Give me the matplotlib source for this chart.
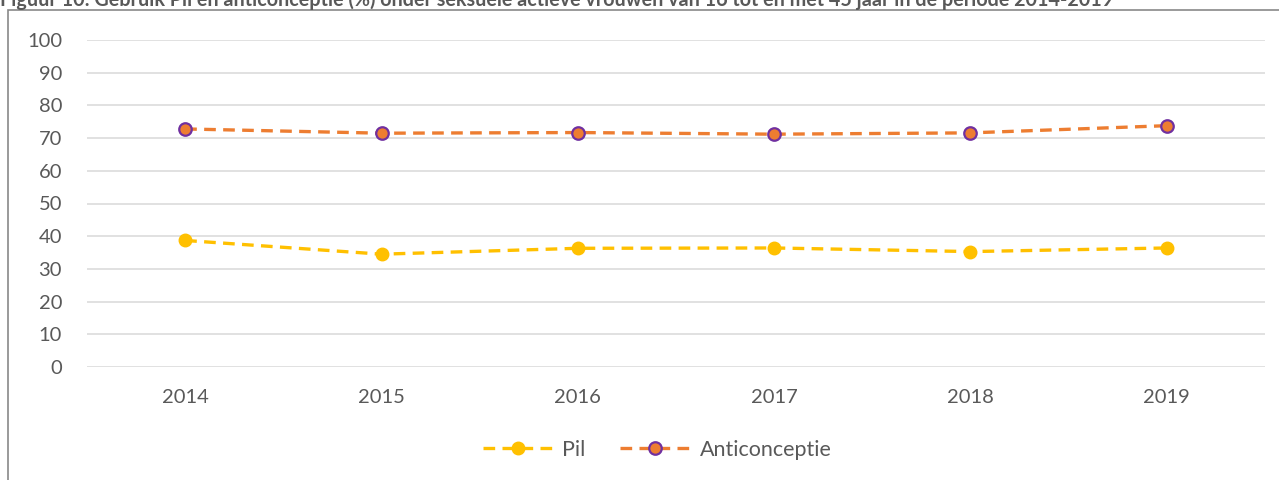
import matplotlib
matplotlib.use("Agg")
import matplotlib.pyplot as plt
from matplotlib.patches import Rectangle

# data
years = ["2014", "2015", "2016", "2017", "2018", "2019"]
pil = [38.7, 34.5, 36.3, 36.4, 35.3, 36.4]
anticonceptie = [72.8, 71.5, 71.7, 71.2, 71.6, 73.8]
y_ticks = [0, 10, 20, 30, 40, 50, 60, 70, 80, 90, 100]

title = ("Figuur 10: Gebruik Pil en anticonceptie (%) onder seksuele actieve "
         "vrouwen van 16 tot en met 45 jaar in de periode 2014-2019")

plt.rcParams['font.family'] = ['Lato', 'DejaVu Sans']
txt = '#595959'

fig = plt.figure(figsize=(12.79, 4.8), dpi=100)
ax = fig.add_axes([87/1279, 1-367/480, (1265-87)/1279, (367-40)/480])

x = list(range(len(years)))
ax.plot(x, pil, color='#FFC000', lw=2.4, dashes=(3.5, 2.2),
        marker='o', ms=9, mfc='#FFC000', mec='#FFC000', label='Pil', zorder=3)
ax.plot(x, anticonceptie, color='#ED7D31', lw=2.4, dashes=(3.5, 2.2),
        marker='o', ms=9, mfc='#ED7D31', mec='#7030A0', mew=1.6,
        label='Anticonceptie', zorder=3)

ax.set_xlim(-0.5, len(years) - 0.5)
ax.set_ylim(0, 100)
ax.set_xticks(x)
ax.set_xticklabels(years)
ax.set_yticks(y_ticks)
ax.tick_params(axis='both', length=0, labelsize=14.5, colors=txt)
ax.tick_params(axis='x', pad=16)
ax.tick_params(axis='y', pad=18)
ax.grid(axis='y', color='#D9D9D9', lw=1.1)
ax.set_axisbelow(True)
for s in ax.spines.values():
    s.set_visible(False)

fig.legend(loc='center', bbox_to_anchor=(657/1279, 1-450/480), ncol=2,
           frameon=False, fontsize=15.5, handlelength=3.3, columnspacing=1.6,
           handletextpad=0.4, labelcolor=txt)

# chart frame (only top and left edge show in the reference)
fig.patches.append(Rectangle((8/1279, -0.05), 1.1, 1.05 - 10/480,
                             transform=fig.transFigure, fill=False,
                             ec='#898989', lw=1.2, clip_on=False))

fig.text(0.0, 1-6/480, title, fontsize=14.2, fontweight='bold', color=txt,
         ha='left', va='baseline')

fig.savefig('out.png', dpi=100)
